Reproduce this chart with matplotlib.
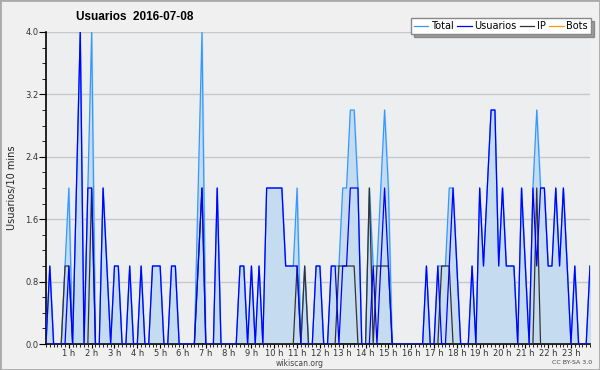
import numpy as np
import matplotlib
matplotlib.use("Agg")
import matplotlib.pyplot as plt
from matplotlib.ticker import MultipleLocator, FixedLocator

# values per 10 min slot, 00:00 .. 23:50 (one row = 2 hours)
usuarios = [
    0, 1, 0, 0, 0, 0, 1, 0, 2, 4, 0, 2,
    2, 0, 0, 2, 1, 0, 1, 1, 0, 0, 1, 0,
    0, 1, 0, 0, 1, 1, 1, 0, 0, 1, 1, 0,
    0, 0, 0, 0, 1, 2, 0, 0, 0, 2, 0, 0,
    0, 0, 0, 1, 1, 0, 1, 0, 1, 0, 2, 2,
    2, 2, 2, 1, 1, 1, 1, 0, 0, 0, 0, 1,
    1, 0, 0, 1, 1, 0, 1, 1, 2, 2, 2, 0,
    0, 0, 1, 0, 1, 2, 1, 0, 0, 0, 0, 0,
    0, 0, 0, 0, 1, 0, 0, 1, 0, 0, 1, 2,
    1, 0, 0, 0, 1, 0, 2, 1, 2, 3, 3, 1,
    2, 1, 1, 1, 0, 2, 1, 0, 2, 1, 2, 2,
    1, 1, 2, 1, 2, 1, 0, 1, 0, 0, 0, 1,
]
ip = [
    0, 0, 0, 0, 0, 1, 1, 0, 0, 0, 0, 0,
    2, 0, 0, 0, 0, 0, 0, 0, 0, 0, 0, 0,
    0, 0, 0, 0, 0, 0, 0, 0, 0, 0, 0, 0,
    0, 0, 0, 0, 1, 2, 0, 0, 0, 0, 0, 0,
    0, 0, 0, 0, 0, 0, 0, 0, 0, 0, 0, 0,
    0, 0, 0, 0, 0, 0, 1, 0, 1, 0, 0, 0,
    0, 0, 0, 0, 0, 1, 1, 1, 1, 1, 0, 0,
    0, 2, 0, 1, 1, 1, 1, 0, 0, 0, 0, 0,
    0, 0, 0, 0, 0, 0, 0, 0, 1, 1, 1, 0,
    0, 0, 0, 0, 0, 0, 0, 0, 0, 0, 0, 0,
    0, 0, 0, 0, 0, 0, 0, 0, 0, 2, 0, 0,
    0, 0, 0, 0, 0, 0, 0, 0, 0, 0, 0, 0,
]
total = [
    0, 1, 0, 0, 0, 1, 2, 0, 2, 4, 0, 2,
    4, 0, 0, 2, 1, 0, 1, 1, 0, 0, 1, 0,
    0, 1, 0, 0, 1, 1, 1, 0, 0, 1, 1, 0,
    0, 0, 0, 0, 2, 4, 0, 0, 0, 2, 0, 0,
    0, 0, 0, 1, 1, 0, 1, 0, 1, 0, 2, 2,
    2, 2, 2, 1, 1, 1, 2, 0, 1, 0, 0, 1,
    1, 0, 0, 1, 1, 1, 2, 2, 3, 3, 2, 0,
    0, 2, 1, 1, 2, 3, 2, 0, 0, 0, 0, 0,
    0, 0, 0, 0, 1, 0, 0, 1, 1, 1, 2, 2,
    1, 0, 0, 0, 1, 0, 2, 1, 2, 3, 3, 1,
    2, 1, 1, 1, 0, 2, 1, 0, 2, 3, 2, 2,
    1, 1, 2, 1, 2, 1, 0, 1, 0, 0, 0, 1,
]
bots = [0] * 144
hour_labels = [f"{h} h" for h in range(1, 24)]

x = np.arange(len(total))

fig = plt.figure(figsize=(6, 3.7), dpi=100, facecolor="#f0f0f0")
fig.patches.append(plt.Rectangle((0, 0), 1, 1, transform=fig.transFigure,
                                 fill=False, edgecolor="#aaaaaa", linewidth=2))
ax = fig.add_axes([46 / 600, 1 - 344 / 370, 544 / 600, 312 / 370])
ax.set_facecolor("#edeef0")

ax.fill_between(x, total, 0, color="#c4dbf0", zorder=1)
ax.plot(x, bots, color="#ff9900", lw=0.9, zorder=2, label="Bots")
ax.plot(x, total, color="#3399ff", lw=0.9, zorder=3, label="Total")
ax.plot(x, ip, color="#333333", lw=0.9, zorder=4, label="IP")
ax.plot(x, usuarios, color="#0000ff", lw=0.9, zorder=5, label="Usuarios")

ax.set_xlim(0, len(x) - 1)
ax.set_ylim(0, 4)
ax.yaxis.set_major_locator(MultipleLocator(0.8))
ax.yaxis.set_minor_locator(MultipleLocator(0.2))
ax.set_yticklabels([f"{v:.1f}" for v in ax.get_yticks()])
ax.xaxis.set_major_locator(FixedLocator(list(range(6, 144, 6))))
ax.set_xticklabels(hour_labels)
ax.xaxis.set_minor_locator(MultipleLocator(1))
ax.tick_params(axis="both", which="both", direction="out", labelsize=6,
               color="black", labelcolor="#333333", pad=0.5)
ax.tick_params(axis="x", which="major", length=3)
ax.tick_params(axis="x", which="minor", length=2.5)
ax.tick_params(axis="y", which="major", length=5)
ax.tick_params(axis="y", which="minor", length=3)
ax.grid(axis="y", which="major", color="#c8c8c8", lw=1)
ax.set_axisbelow(True)
for s in ["top", "right"]:
    ax.spines[s].set_visible(False)
ax.spines["left"].set_linewidth(1.2)
ax.spines["bottom"].set_linewidth(1.2)

ax.set_ylabel("Usuarios/10 mins", fontsize=7, color="#222222", labelpad=6)

fig.text(76 / 600, 1 - 17 / 370, "Usuarios  2016-07-08", fontsize=8.5,
         fontweight="bold", family="Liberation Sans", va="center", ha="left")

handles, labels = ax.get_legend_handles_labels()
order = ["Total", "Usuarios", "IP", "Bots"]
hmap = dict(zip(labels, handles))
leg = fig.legend([hmap[k] for k in order], order, loc="upper right",
                 bbox_to_anchor=(591 / 600, 1 - 18 / 370), ncol=4, fontsize=7,
                 frameon=True, fancybox=False, shadow=True, handlelength=1.5,
                 handletextpad=0.3, columnspacing=0.3, borderpad=0.3,
                 borderaxespad=0)
leg.get_frame().set_edgecolor("#888888")
leg.get_frame().set_facecolor("white")

fig.text(300 / 600, 1 - 363 / 370, "wikiscan.org", fontsize=5.5,
         color="#444444", ha="center", va="center")
fig.text(592 / 600, 1 - 363 / 370, "CC BY-SA 3.0", fontsize=4.5,
         color="#444444", ha="right", va="center")

fig.savefig("out.png", dpi=100, facecolor=fig.get_facecolor())
